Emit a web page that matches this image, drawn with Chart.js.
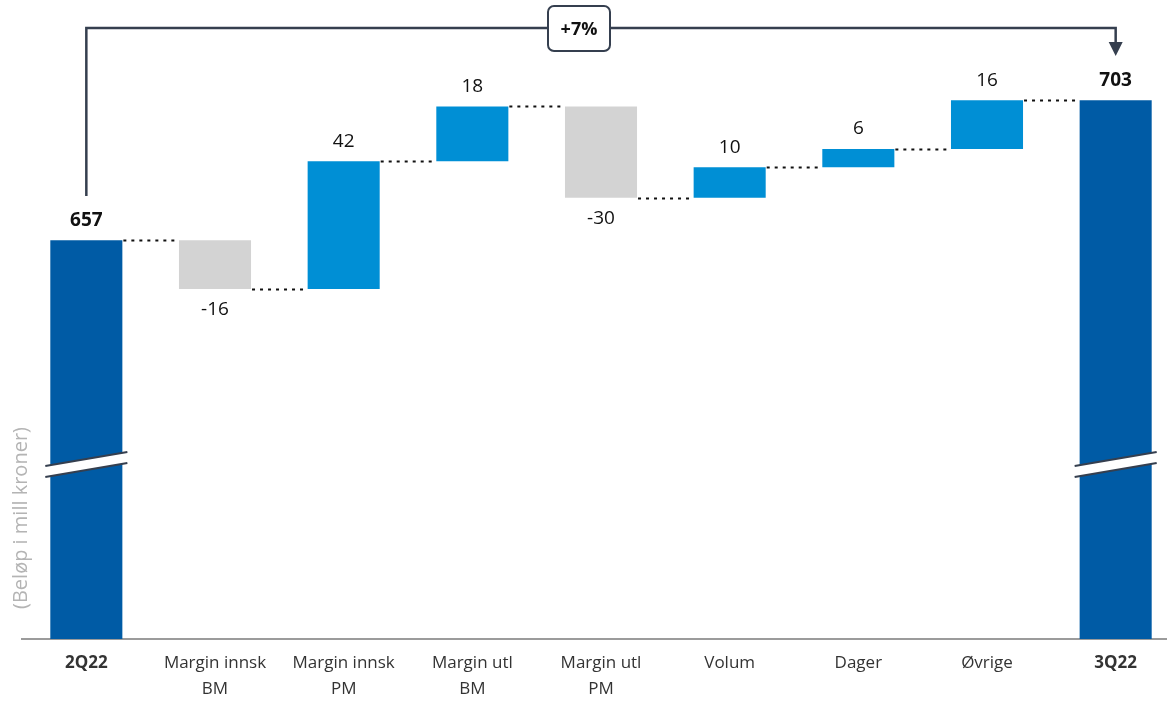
<!DOCTYPE html>
<html>
<head>
<meta charset="utf-8">
<script src="https://cdn.jsdelivr.net/npm/chart.js@4/dist/chart.umd.min.js"></script>
<style>
  html, body { margin: 0; padding: 0; background: #fff; overflow: hidden; }
  #wrap { width: 1180px; height: 701px; position: relative; }
</style>
</head>
<body>
<div id="wrap"><canvas id="chart"></canvas></div>
<script>
// ---- data ----
const categories = ['2Q22', ['Margin innsk', 'BM'], ['Margin innsk', 'PM'], ['Margin utl', 'BM'], ['Margin utl', 'PM'], 'Volum', 'Dager', 'Øvrige', '3Q22'];
const startTotal = 657;
const deltas = [-16, 42, 18, -30, 10, 6, 16];
const endTotal = 703;
const changeLabel = '+7%';
const axisTitle = '(Beløp i mill kroner)';

const FONT = '"Open Sans", "Noto Sans", sans-serif';
const C_TOTAL = '#005ba5';
const C_UP = '#008fd5';
const C_DOWN = '#d3d3d3';
const C_DARK = '#353f4f';

// build floating bars from running sum
const ranges = [[526, startTotal]];
const colors = [C_TOTAL];
const valueText = [String(startTotal)];
let run = startTotal;
deltas.forEach(d => {
  ranges.push([run, run + d]);
  colors.push(d >= 0 ? C_UP : C_DOWN);
  valueText.push(String(d));
  run += d;
});
ranges.push([526, endTotal]);
colors.push(C_TOTAL);
valueText.push(String(endTotal));

const isTotal = i => i === 0 || i === categories.length - 1;

const decorPlugin = {
  id: 'decor',
  afterDatasetsDraw(chart) {
    const { ctx, scales: { x, y } } = chart;
    const meta = chart.getDatasetMeta(0);
    ctx.save();

    // dotted connectors
    ctx.strokeStyle = '#111';
    ctx.lineWidth = 2;
    ctx.setLineDash([3, 5]);
    for (let i = 0; i < meta.data.length - 1; i++) {
      const a = meta.data[i], b = meta.data[i + 1];
      const level = ranges[i][1];
      const py = Math.round(y.getPixelForValue(level)) + 0.5;
      ctx.beginPath();
      ctx.moveTo(a.x + a.width / 2 + 1, py);
      ctx.lineTo(b.x - b.width / 2 - 1, py);
      ctx.stroke();
    }
    ctx.setLineDash([]);

    // value labels
    ctx.fillStyle = '#111';
    ctx.textAlign = 'center';
    ctx.textBaseline = 'middle';
    meta.data.forEach((bar, i) => {
      const [lo, hi] = ranges[i];
      const top = y.getPixelForValue(Math.max(lo, hi));
      const bot = y.getPixelForValue(Math.min(lo, hi));
      ctx.font = (isTotal(i) ? 'bold ' : '') + '19px ' + FONT;
      if (!isTotal(i) && deltas[i - 1] < 0) {
        ctx.fillText(valueText[i], bar.x, bot + 21);
      } else {
        ctx.fillText(valueText[i], bar.x, top - 20);
      }
    });

    // axis break marks on total bars
    [0, meta.data.length - 1].forEach(i => {
      const bar = meta.data[i];
      const x0 = bar.x - bar.width / 2 - 5, x1 = bar.x + bar.width / 2 + 5;
      const yc = 464;
      ctx.fillStyle = '#fff';
      ctx.beginPath();
      ctx.moveTo(x0, yc + 2); ctx.lineTo(x1, yc - 12);
      ctx.lineTo(x1, yc - 1); ctx.lineTo(x0, yc + 13);
      ctx.closePath(); ctx.fill();
      ctx.strokeStyle = C_DARK; ctx.lineWidth = 2;
      ctx.beginPath(); ctx.moveTo(x0, yc + 2); ctx.lineTo(x1, yc - 12); ctx.stroke();
      ctx.beginPath(); ctx.moveTo(x0, yc + 13); ctx.lineTo(x1, yc - 1); ctx.stroke();
    });

    // bracket with arrow
    const xa = meta.data[0].x, xb = meta.data[meta.data.length - 1].x;
    const yTop = 28;
    ctx.strokeStyle = C_DARK;
    ctx.lineWidth = 2.5;
    ctx.beginPath();
    ctx.moveTo(xa, 196);
    ctx.lineTo(xa, yTop);
    ctx.lineTo(xb, yTop);
    ctx.lineTo(xb, 44);
    ctx.stroke();
    ctx.fillStyle = C_DARK;
    ctx.beginPath();
    ctx.moveTo(xb - 7, 42); ctx.lineTo(xb + 7, 42); ctx.lineTo(xb, 56);
    ctx.closePath(); ctx.fill();

    // change box
    const bx = 548, by = 6, bw = 62, bh = 45, r = 6;
    ctx.fillStyle = '#fff';
    ctx.lineWidth = 2;
    ctx.beginPath();
    ctx.roundRect(bx, by, bw, bh, r);
    ctx.fill(); ctx.stroke();
    ctx.fillStyle = '#111';
    ctx.font = 'bold 18px ' + FONT;
    ctx.fillText(changeLabel, bx + bw / 2, by + bh / 2 + 1);

    // y axis title
    ctx.save();
    ctx.translate(21, 518);
    ctx.rotate(-Math.PI / 2);
    ctx.fillStyle = '#b4b4b4';
    ctx.font = '20px ' + FONT;
    ctx.fillText(axisTitle, 0, 0);
    ctx.restore();

    ctx.restore();
  }
};

new Chart(document.getElementById('chart'), {
  type: 'bar',
  data: {
    labels: categories,
    datasets: [{
      data: ranges,
      backgroundColor: colors,
      borderWidth: 0,
      borderSkipped: false,
      categoryPercentage: 1,
      barPercentage: 0.56
    }]
  },
  options: {
    responsive: true,
    maintainAspectRatio: false,
    animation: false,
    layout: { padding: { left: 22, right: 0, top: 9, bottom: 0 } },
    plugins: { legend: { display: false }, tooltip: { enabled: false } },
    scales: {
      x: {
        grid: { display: false, drawTicks: false },
        border: { display: true, color: '#9b9b9b', width: 2 },
        ticks: {
          padding: 11,
          color: '#333',
          maxRotation: 0,
          autoSkip: false,
          font: ctx => ({ family: FONT, size: 17, weight: isTotal(ctx.index) ? 'bold' : 'normal', lineHeight: 1.55 })
        },
        afterFit(scale) { scale.height = 62; }
      },
      y: {
        display: false,
        min: 526,
        max: 733
      }
    }
  },
  plugins: [decorPlugin]
});
</script>
</body>
</html>
